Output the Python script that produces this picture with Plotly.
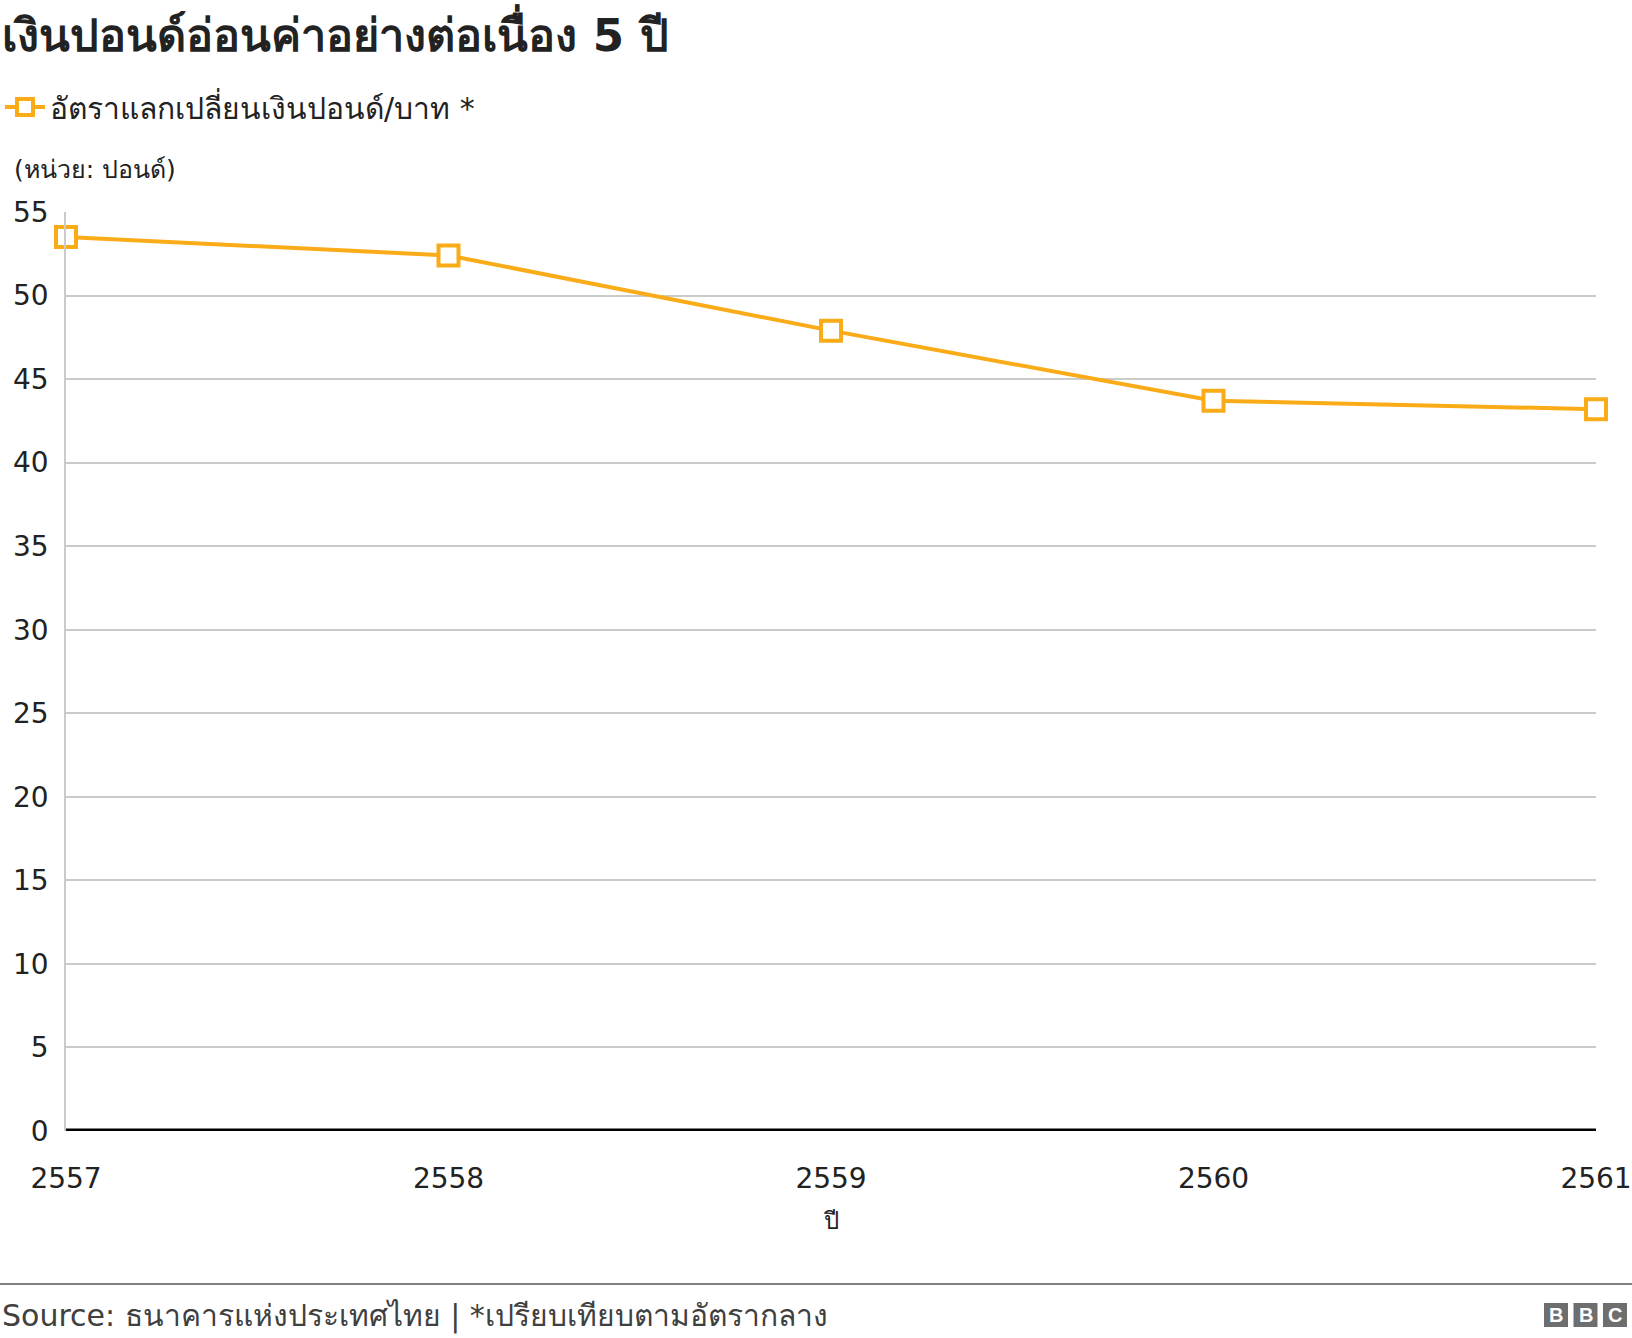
import plotly.graph_objects as go

years = [2557, 2558, 2559, 2560, 2561]
rates = [53.5, 52.4, 47.9, 43.7, 43.2]
series_name = "อัตราแลกเปลี่ยนเงินปอนด์/บาท *"
title_text = "เงินปอนด์อ่อนค่าอย่างต่อเนื่อง 5 ปี"
unit_text = "(หน่วย: ปอนด์)"
xaxis_title = "ปี"
source_text = "Source: ธนาคารแห่งประเทศไทย | *เปรียบเทียบตามอัตรากลาง"
y_ticks = [0, 5, 10, 15, 20, 25, 30, 35, 40, 45, 50, 55]

ORANGE = "#FAAB18"
FONT = "Verdana, Tahoma, DejaVu Sans, Noto Sans, sans-serif"
W, H = 1632, 1338
ML, MR, MT, MB = 66, 36, 212, 207
pw, ph = W - ML - MR, H - MT - MB


def px_x(x):
    return (x - ML) / pw


def px_y(y):
    return (H - MB - y) / ph


fig = go.Figure()
fig.add_trace(go.Scatter(
    x=years, y=rates, mode="lines+markers", name=series_name,
    line=dict(color=ORANGE, width=4),
    marker=dict(symbol="square", size=20, color="white",
                line=dict(color=ORANGE, width=4)),
    cliponaxis=False,
))

fig.update_layout(
    width=W, height=H,
    paper_bgcolor="white", plot_bgcolor="white",
    margin=dict(l=ML, r=MR, t=MT, b=MB, autoexpand=False),
    font=dict(family=FONT, color="#222222"),
    showlegend=True,
    legend=dict(x=0, y=1 - 107 / H, xref="container", yref="container",
                xanchor="left", yanchor="middle",
                font=dict(size=30, color="#222222"), itemwidth=40,
                bgcolor="rgba(0,0,0,0)"),
    xaxis=dict(range=[2557, 2561], tickvals=years, ticktext=[str(y) for y in years],
               showgrid=False, zeroline=False, showline=False,
               tickfont=dict(size=28, color="#222222"), ticks="", ticklabelstandoff=28,
               title=dict(text=xaxis_title, font=dict(size=24, color="#222222"), standoff=18)),
    yaxis=dict(range=[0, 55], tickvals=y_ticks, showgrid=True, gridcolor="#cbcbcb",
               gridwidth=1.5, zeroline=False, showline=True, linecolor="#cbcbcb",
               linewidth=1.5, tickfont=dict(size=28, color="#222222"),
               ticks="", ticklabelstandoff=10),
)

# thick zero baseline
fig.add_shape(type="line", xref="paper", yref="y", x0=0, x1=1, y0=0, y1=0,
              line=dict(color="black", width=5))

# title
fig.add_annotation(text="<b>" + title_text + "</b>", xref="paper", yref="paper",
                   x=px_x(0), y=px_y(33), showarrow=False, xanchor="left", yanchor="middle",
                   font=dict(size=45, color="#222222"))
fig.add_annotation(text=unit_text, xref="paper", yref="paper",
                   x=px_x(12), y=px_y(170), showarrow=False, xanchor="left", yanchor="middle",
                   font=dict(size=25, color="#222222"))
fig.add_annotation(text=source_text, xref="paper", yref="paper",
                   x=px_x(0), y=px_y(1316), showarrow=False, xanchor="left", yanchor="middle",
                   font=dict(size=30, color="#404040"))

# footer separator
fig.add_shape(type="line", xref="paper", yref="paper",
              x0=px_x(0), x1=px_x(W), y0=px_y(1284), y1=px_y(1284),
              line=dict(color="#7f7f7f", width=2))

# BBC logo
for i, letter in enumerate(["B", "B", "C"]):
    x0 = 1544 + i * 29.5
    fig.add_shape(type="rect", xref="paper", yref="paper",
                  x0=px_x(x0), x1=px_x(x0 + 24),
                  y0=px_y(1327), y1=px_y(1303),
                  fillcolor="#6e6e6e", line=dict(width=0))
    fig.add_annotation(text="<b>" + letter + "</b>", xref="paper", yref="paper",
                       x=px_x(x0 + 12), y=px_y(1315),
                       showarrow=False, xanchor="center", yanchor="middle",
                       font=dict(size=20, color="white", family="Arial, Liberation Sans, sans-serif"))

fig.write_html("out.html", config={"displayModeBar": False},
               post_script="document.body.style.margin='0px';")
